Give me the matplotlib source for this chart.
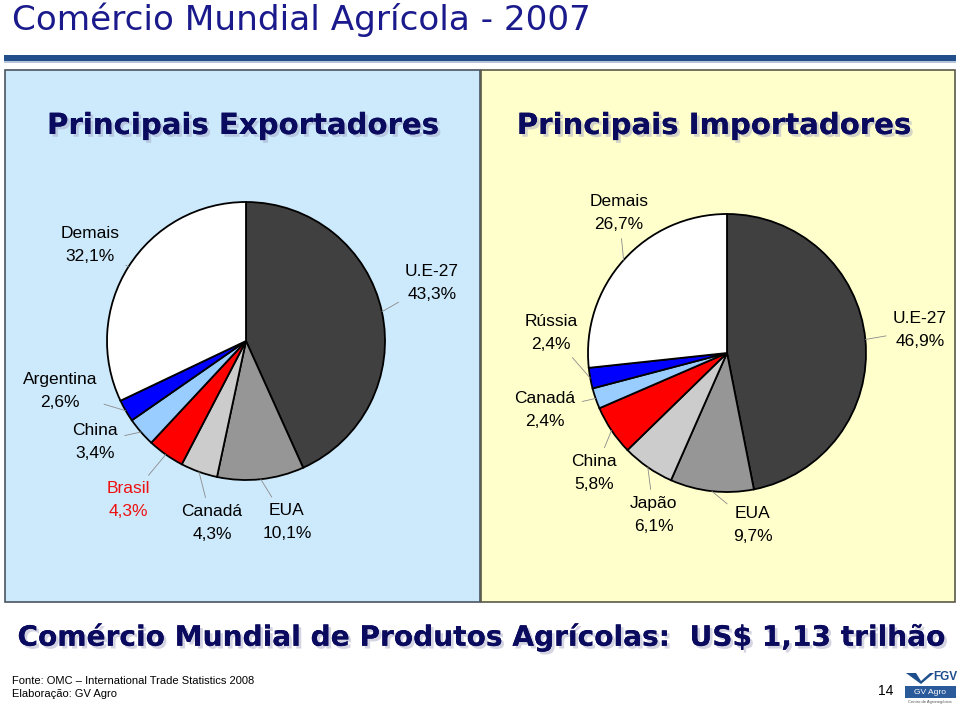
import numpy as np
import matplotlib
matplotlib.use("Agg")
import matplotlib.pyplot as plt
import matplotlib.patheffects as pe
from matplotlib.patches import Rectangle, Polygon

# data
exp_names = ['U.E-27', 'EUA', 'Canadá', 'Brasil', 'China', 'Argentina', 'Demais']
exp_vals = [43.3, 10.1, 4.3, 4.3, 3.4, 2.6, 32.1]
imp_names = ['U.E-27', 'EUA', 'Japão', 'China', 'Canadá', 'Rússia', 'Demais']
imp_vals = [46.9, 9.7, 6.1, 5.8, 2.4, 2.4, 26.7]
slice_colors = ['#404040', '#969696', '#cccccc', '#ff0000', '#99ccff', '#0000ff', '#ffffff']

# label text positions (image pixels)
exp_label_pos = [(432, 283), (287, 522), (212, 523), (128, 500), (95, 442), (60, 391), (90, 245)]
imp_label_pos = [(920, 330), (753, 525), (654, 515), (594, 473), (545, 410), (551, 333), (619, 213)]

W, H = 960, 706
fig = plt.figure(figsize=(W / 100, H / 100), dpi=100)
fig.patch.set_facecolor('white')

bg = fig.add_axes([0, 0, 1, 1])
bg.set_xlim(0, W)
bg.set_ylim(H, 0)
bg.axis('off')

navy = '#0a0a5e'
shadow = [pe.withSimplePatchShadow(offset=(2, -2), shadow_rgbFace='#a0a0c0', alpha=0.45), pe.Normal()]

# title + rule
bg.text(12, 20, 'Comércio Mundial Agrícola - 2007', fontsize=24.7, color='#1a1a8c',
        family='DejaVu Sans', va='center', ha='left')
bg.add_patch(Rectangle((4, 55), 952, 6, facecolor='#234e8c', edgecolor='none'))
bg.add_patch(Rectangle((4, 61), 952, 2, facecolor='#b8c4d8', edgecolor='none'))

# panels
bg.add_patch(Rectangle((5, 70), 475, 532, facecolor='#cdeafc', edgecolor='#4a5560', lw=1.2))
bg.add_patch(Rectangle((481, 70), 474, 532, facecolor='#ffffcc', edgecolor='#5a5a4a', lw=1.2))

bg.text(243, 126, 'Principais Exportadores', fontsize=21, fontweight='bold', color=navy,
        ha='center', va='center', path_effects=shadow)
bg.text(714, 126, 'Principais Importadores', fontsize=21, fontweight='bold', color=navy,
        ha='center', va='center', path_effects=shadow)


def draw_pie(cx, cy, r, vals, names, label_pos):
    ax = fig.add_axes([(cx - r) / W, (H - cy - r) / H, 2 * r / W, 2 * r / H])
    wedges, _ = ax.pie(vals, colors=slice_colors, startangle=90, counterclock=False,
                       radius=1, wedgeprops=dict(edgecolor='black', linewidth=1.3))
    ax.set_xlim(-1, 1)
    ax.set_ylim(-1, 1)
    ax.axis('off')
    for w, name, v, (tx, ty) in zip(wedges, names, vals, label_pos):
        ang = np.deg2rad((w.theta1 + w.theta2) / 2)
        col = '#ee1111' if name == 'Brasil' else 'black'
        label = name + '\n' + f'{v:.1f}'.replace('.', ',') + '%'
        ax.annotate(label, xy=(np.cos(ang), np.sin(ang)), xycoords='data',
                    xytext=(tx, H - ty), textcoords='figure pixels',
                    ha='center', va='center', fontsize=12.5, color=col,
                    family='Liberation Sans', linespacing=1.6,
                    arrowprops=dict(arrowstyle='-', color='#8a8a8a', lw=0.6,
                                    shrinkA=3, shrinkB=0),
                    annotation_clip=False)
    return ax


draw_pie(246, 341, 139, exp_vals, exp_names, exp_label_pos)
draw_pie(727, 353, 139, imp_vals, imp_names, imp_label_pos)

# bottom headline
bg.text(481, 637, 'Comércio Mundial de Produtos Agrícolas:  US$ 1,13 trilhão', fontsize=20.2,
        fontweight='bold', color=navy, ha='center', va='center', path_effects=shadow)

# footer
foot = ['Liberation Sans Narrow', 'Liberation Sans']
bg.text(12, 681, 'Fonte: OMC – International Trade Statistics 2008', fontsize=8, family=foot,
        va='center')
bg.text(12, 694, 'Elaboração: GV Agro', fontsize=8, family=foot, va='center')
bg.text(886, 691, '14', fontsize=10, family=foot, va='center', ha='center')

# logo
bg.add_patch(Polygon([(906, 673), (916, 673), (921, 681), (930, 673), (934, 673), (921, 684)],
                     closed=True, facecolor='#1f4e8c', edgecolor='none'))
bg.text(945, 677, 'FGV', fontsize=8.5, fontweight='bold', color='#1f4e8c', family=foot,
        ha='center', va='center')
bg.add_patch(Rectangle((905, 686), 51, 12, facecolor='#2a5a9a', edgecolor='none'))
bg.text(930, 692, 'GV Agro', fontsize=6, color='white', family=foot, ha='center', va='center')
bg.text(930, 702, 'Centro de Agronegócios', fontsize=3, color='#555555', family=foot,
        ha='center', va='center')

fig.savefig('out.png', dpi=100, facecolor='white')
